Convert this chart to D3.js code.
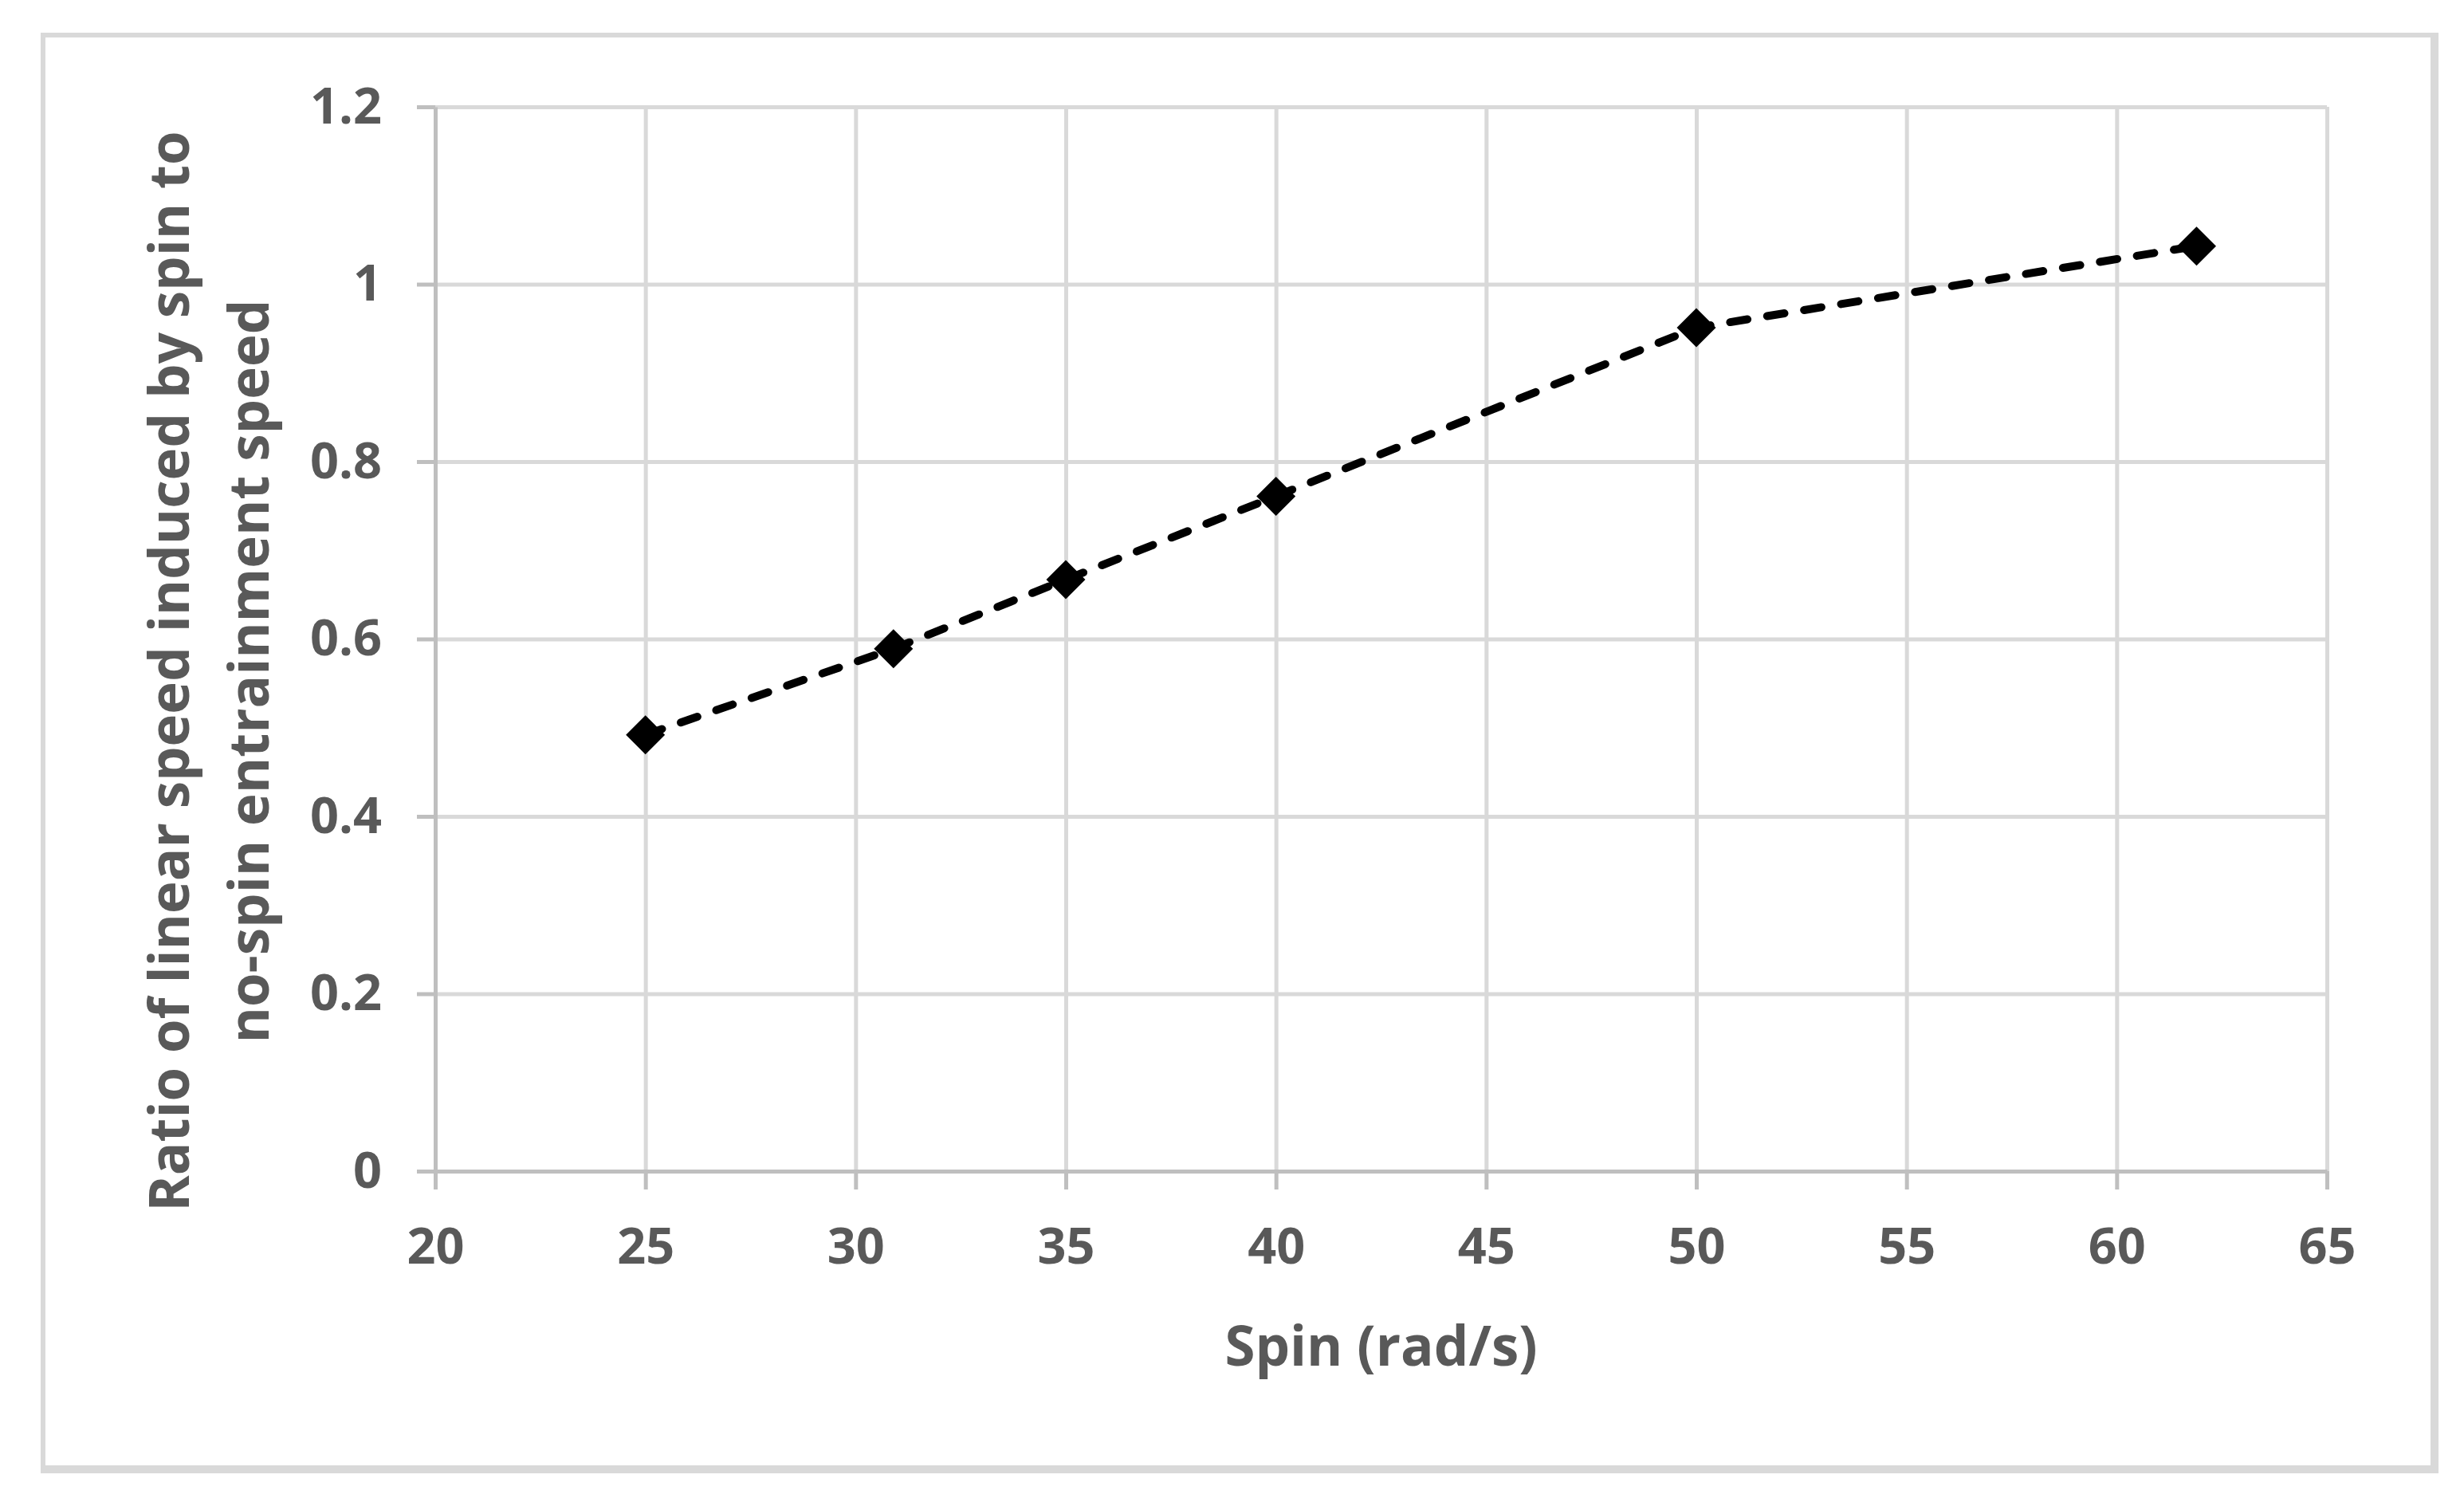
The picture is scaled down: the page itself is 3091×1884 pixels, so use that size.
<!DOCTYPE html>
<html>
<head>
<meta charset="utf-8">
<script src="https://cdn.jsdelivr.net/npm/d3@7"></script>
<style>
  body { margin: 0; background: #ffffff; }
  text { font-family: "Open Sans", "Noto Sans", sans-serif; font-weight: 700; fill: #595959; }
</style>
</head>
<body>
<div id="vis1"></div>
<script>
// Data
const SPIN = [25, 30.9, 35, 40, 50, 61.9];
const RATIO = [0.492, 0.589, 0.667, 0.761, 0.951, 1.043];
const X_TICKS = [20, 25, 30, 35, 40, 45, 50, 55, 60, 65];
const Y_TICKS = [0, 0.2, 0.4, 0.6, 0.8, 1, 1.2];
const X_TITLE = "Spin (rad/s)";
const Y_TITLE = ["Ratio of linear speed induced by spin to", "no-spin entrainment speed"];

// Declare constants
const FRAME_WIDTH = 3091;
const FRAME_HEIGHT = 1884;
const MARGINS = {left: 546, right: 172, top: 134, bottom: 415};

const VIS_WIDTH = FRAME_WIDTH - MARGINS.left - MARGINS.right;
const VIS_HEIGHT = FRAME_HEIGHT - MARGINS.top - MARGINS.bottom;

const FRAME1 = d3.select("#vis1")
                  .append("svg")
                    .attr("width", FRAME_WIDTH)
                    .attr("height", FRAME_HEIGHT);

// outer chart border (right / bottom edges a bit heavier)
FRAME1.append("path")
        .attr("d", "M54,1843 L54,44 L3054,44")
        .attr("fill", "none")
        .attr("stroke", "#d9d9d9")
        .attr("stroke-width", 6);
FRAME1.append("path")
        .attr("d", "M51,1843 L3054,1843 L3054,41")
        .attr("fill", "none")
        .attr("stroke", "#d9d9d9")
        .attr("stroke-width", 10);

const X_SCALE = d3.scaleLinear()
                  .domain([20, 65])
                  .range([0, VIS_WIDTH]);

const Y_SCALE = d3.scaleLinear()
                  .domain([0, 1.2])
                  .range([VIS_HEIGHT, 0]);

const PLOT = FRAME1.append("g")
                    .attr("transform", "translate(" + MARGINS.left + "," + MARGINS.top + ")");

// gridlines
const xGrid = PLOT.append("g")
                  .attr("transform", "translate(0," + VIS_HEIGHT + ")")
                  .call(d3.axisBottom(X_SCALE).tickValues(X_TICKS).tickSize(-VIS_HEIGHT).tickFormat(""));
const yGrid = PLOT.append("g")
                  .call(d3.axisLeft(Y_SCALE).tickValues(Y_TICKS).tickSize(-VIS_WIDTH).tickFormat(""));
[xGrid, yGrid].forEach((g) => {
  g.select(".domain").remove();
  g.selectAll("line").attr("stroke", "#d9d9d9").attr("stroke-width", 5);
});

// axes
const xAxis = PLOT.append("g")
                  .attr("transform", "translate(0," + VIS_HEIGHT + ")")
                  .call(d3.axisBottom(X_SCALE).tickValues(X_TICKS).tickSize(23).tickSizeOuter(0).tickPadding(48));
const yAxis = PLOT.append("g")
                  .call(d3.axisLeft(Y_SCALE).tickValues(Y_TICKS).tickSize(23).tickSizeOuter(0).tickPadding(44)
                  .tickFormat((d) => d3.format("~g")(d)));
[xAxis, yAxis].forEach((g) => {
  g.attr("font-family", null);
  g.select(".domain").attr("stroke", "#bfbfbf").attr("stroke-width", 5);
  g.selectAll(".tick line").attr("stroke", "#bfbfbf").attr("stroke-width", 5);
  g.selectAll("text").attr("font-size", "63px").attr("fill", "#595959");
});

// dashed line
const points = SPIN.map((s, i) => [s, RATIO[i]]);
const line = d3.line()
               .x((d) => X_SCALE(d[0]))
               .y((d) => Y_SCALE(d[1]));

PLOT.append("path")
      .datum(points)
      .attr("d", line)
      .attr("fill", "none")
      .attr("stroke", "#000000")
      .attr("stroke-width", 10)
      .attr("stroke-linecap", "round")
      .attr("stroke-dasharray", "22,25");

// diamond markers
const diamond = d3.symbol().type(d3.symbolSquare).size(1200);
PLOT.selectAll(".marker")
      .data(points)
      .enter()
      .append("path")
        .attr("class", "marker")
        .attr("d", diamond)
        .attr("transform", (d) => "translate(" + X_SCALE(d[0]) + "," + Y_SCALE(d[1]) + ") rotate(45)")
        .attr("fill", "#000000");

// axis titles
FRAME1.append("text")
        .attr("x", MARGINS.left + VIS_WIDTH / 2)
        .attr("y", 1713)
        .attr("text-anchor", "middle")
        .attr("font-size", "69px")
        .text(X_TITLE);

const yTitle = FRAME1.append("text")
                      .attr("transform", "translate(237,842) rotate(-90)")
                      .attr("text-anchor", "middle")
                      .attr("font-size", "69px");
yTitle.selectAll("tspan")
        .data(Y_TITLE)
        .enter()
        .append("tspan")
          .attr("x", 0)
          .attr("y", (d, i) => i * 100)
          .text((d) => d);
</script>
</body>
</html>
